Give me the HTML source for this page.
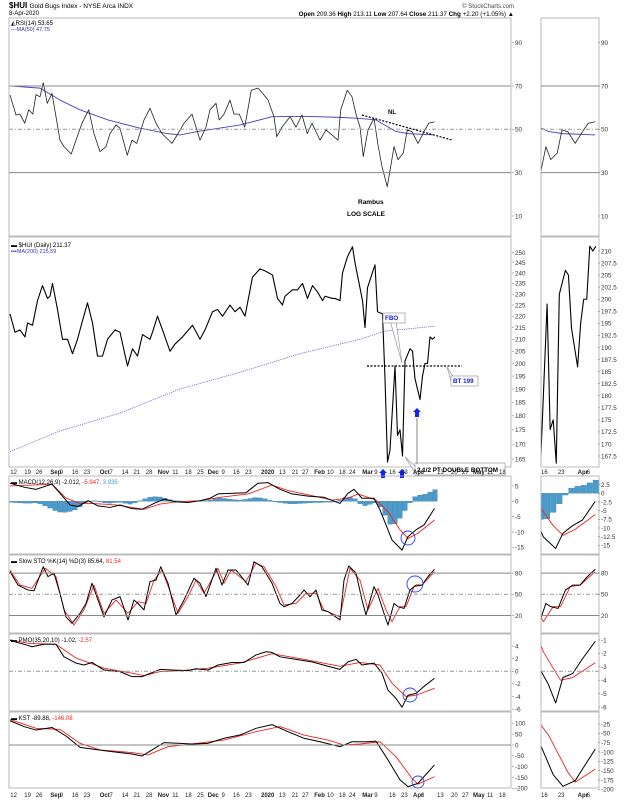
<!DOCTYPE html>
<html><head><meta charset="utf-8">
<style>
html,body{margin:0;padding:0;background:#fff;}
svg{display:block;font-family:"Liberation Sans",sans-serif;}
</style></head>
<body>
<svg id="c" width="624" height="800" viewBox="0 0 624 800" xmlns="http://www.w3.org/2000/svg">
<defs>
<clipPath id="cm"><rect x="9" y="18" width="502" height="772"/></clipPath>
<clipPath id="cr"><rect x="541" y="18" width="58" height="772"/></clipPath>
</defs>
<text x="9" y="8" font-size="8" font-weight="bold" fill="#000">$HUI <tspan font-weight="normal" font-size="6.5">Gold Bugs Index - NYSE Arca INDX</tspan></text>
<text x="9" y="15" font-size="6" fill="#000">8-Apr-2020</text>
<text x="514" y="8" font-size="6" fill="#444" text-anchor="end">© StockCharts.com</text>
<text x="514" y="16" font-size="6.3" fill="#000" text-anchor="end"><tspan font-weight="bold">Open</tspan> 209.36 <tspan font-weight="bold">High</tspan> 213.11 <tspan font-weight="bold">Low</tspan> 207.64 <tspan font-weight="bold">Close</tspan> 211.37 <tspan font-weight="bold">Chg</tspan> +2.20 (+1.05%) ▲</text>
<g id="g"></g>
</svg>
<script>
// ---- data (day index: 0 = 8-Aug-2019, 170 = 8-Apr-2020) ----
const priceDays=[0,2,4,6,7,9,11,13,15,16,17,19,21,23,25,27,29,31,33,35,37,39,42,44,47,49,51,53,56,57,59,61,64,66,69,73,76,78,81,83,85,88,90,92,94,97,100,102,105,107,109,110,113,115,117,119,121,123,125,126,129,130,132,133,135,137,138,141,142,143,146,147,149,150,151,152,154,155,156,157,158,160,161,162,164,165,166,167,168,169,170];
const priceVals=[221,213,214,211,217,216,227,234,228,229,235,223,210,210,204,210,218,226,217,203,203,210,214,213,199,206,203,212,210,213,220,214,205,208,211,216,210,214,222,223,220,225,222,224,220,238,242,241,239,228,225,229,232,232,235,228,234,231,227,229,228,228,227,240,248,253,245,227,215,233,244,222,221,194,164,168,199,173,175,166,201,206,205,194,186,195,200,200,211,210,211];
const maDays=[0,20,44,68,92,116,140,150,170];
const maVals=[167.5,174.6,181,190,196.5,204,210,213.5,215.6];
const rsiDays=[0,2.4,4,5.9,7.5,9.1,10.4,12,13.3,14.9,16.8,20,21.6,24.5,26.4,28.8,31.5,33.6,36,38.4,40,42.4,44,46.9,48.8,50.7,53.6,56,58.4,60.8,64.8,67.2,69.6,72.8,76,78.4,80,82.4,83.7,85.6,88,89.6,91.7,93.9,96.5,99.2,100.8,103.2,105.6,106.7,108.8,112,114.4,116.8,118.9,120.8,124,126.4,128.8,131.2,132.3,134.9,136.8,138.4,140,141.3,143.2,145.6,147.2,148.8,150.9,152.5,153.6,155.2,157.3,158.9,160.8,163.2,165.6,167.5,169.8];
const rsiVals=[65.8,56.6,57,52.8,59,57,66,65,71.5,62,66.6,45,42,38.6,45,52.8,59,48,39.7,42,48,52,50.5,38,45,43.5,54.3,59.7,52.8,48,43.5,48,52.8,57,45,51,59,62,54.3,57,63.5,57,57,51,68,69,67,63.5,55.8,46.6,51,55.8,51,56.6,48,52.8,45,49.7,47.4,45,59,68,65,57,51,37.4,49.7,55,42.8,32.8,23.5,34.3,42,36,39,49.7,48.9,43.5,48.9,52.8,53.5];
const rsiMaDays=[0,12,20,28,39.2,52,63.2,68,75.2,92,104.8,117.6,132,140,146.4,154.4,159.2,169.8];
const rsiMaVals=[70,69,63.5,59,54.3,50.5,48,47.4,49,52,55.8,56,55.5,55,54.3,49,48,47.4];
const macdDays=[0,5.6,10.4,16.8,20,24,27.2,31.2,35.2,40,44,48.8,52.8,57.6,61.6,66.4,71.2,76,80,83.2,88,94.4,99.2,103.2,108,112.8,119.2,125.6,132,135.2,137.6,140.8,145.6,148,150.4,152.8,156.8,159.2,162.4,165.6,169.8];
const macdVals=[5.9,4.6,3.9,5.6,2.6,-1.2,-1.7,0.2,-1.5,-2,-1.2,-2.4,-2.6,-0.7,0.7,-0.2,-0.4,0.2,1,2.4,2.6,2.8,5.9,6.1,3.9,2.4,1.7,1.3,-0.7,2.6,3.9,1,1,-2.8,-7.7,-12.6,-15.9,-11.5,-9.3,-7.7,-2.3];
const sigDays=[0,8.8,16.8,22.4,28,32.8,42.4,53.6,60,66.4,76,84,95.2,104.8,111.2,119.2,128.8,135.2,139.2,146.4,151.2,156,159.2,163.2,169.8];
const sigVals=[5,5.3,5.6,1,-0.7,-0.7,-1.2,-2.6,-0.9,-0.2,0.2,1.3,2.4,5.3,3.5,2.1,0.4,1,2.4,0.4,-3.4,-9.3,-12.1,-10.4,-6.1];
const histVals=[-0.3,-0.4,-0.5,-0.6,-0.6,-0.5,-0.8,-1.5,-2.2,-3.0,-3.5,-3.6,-3.3,-2.8,-1.8,-0.6,0.1,0.2,-0.2,-0.5,-0.6,-0.4,-0.3,-0.6,-0.9,-0.5,0.2,0.8,1.3,1.5,1.4,1.0,0.5,0.2,0.1,0,0.1,0.2,0.1,0.2,0.4,0.8,1.0,0.9,0.7,0.5,0.4,0.6,0.9,1.2,1.1,0.8,0.3,-0.2,-0.4,-0.6,-0.8,-0.8,-0.7,-0.6,-0.5,-0.4,-0.4,-0.3,-0.3,-0.2,0.3,1.2,1.4,0.8,-0.8,-1.4,-1.0,-0.5,-1.8,-4.5,-7.5,-7.3,-5.5,-3.0,-0.5,1.5,2.0,2.3,3.0,3.8];
const stoKDays=[0,3.2,7.2,9.6,13.3,15.2,17.6,20,22.4,24.8,28,30.4,32.8,35.2,37.6,40.8,44,47.2,49.6,51.2,53.6,56,58.4,60.3,63.2,66.4,69.6,73.6,76,78.4,82.4,84.8,87.2,90.4,93.6,95.2,97.6,100.8,104.8,108,109.6,112.8,116,117.6,120,122.4,124.8,127.2,132,133.6,135.5,138.4,140.8,142.4,145.6,147.2,149.6,151.2,153.6,155.2,157.6,160,162.4,164.8,167.2,169.8];
const stoKVals=[82,63,56,55,89,75,80,51,18,9,23,37,65.6,42,18,42,46.7,13.7,42,37,28,68,70,89,65.6,20.8,42,72.6,65.6,46.7,86.8,63,84.4,84.4,70.3,63,96,89,65.6,37,32.5,37,49,56,46.7,56,27.8,25.5,13.7,70,90,80,42,20.8,60.8,49,23,6.6,37,32.5,30,56,63,63,75,85.4];
const stoDDays=[0,4,8.8,14.1,18.4,21.6,25.6,29.6,33.6,37.6,42.4,47.2,51.2,54.4,57.6,60.8,64.8,67.2,71.2,74.4,77.6,83.2,85.6,88.5,94.4,98.4,101.6,106.4,109.6,114.4,118.4,122.4,125.6,132,136,140,143.2,147.2,150.4,152.8,156,158.4,161.6,164.8,169.8];
const stoDVals=[84,63,58.5,86.8,75,28,6.6,28,63,23,42,23,39.6,37,70,84.4,46.7,23,46.7,70,51.4,86.8,65.6,84.4,68,94,89,61,35,37,51.4,51.4,27.8,18,86.8,70,28,58.5,28,11.3,32.5,32.5,60.8,63,82];
const pmoDays=[0,5.6,8.8,13.6,18.4,21.6,26.4,29.6,32.8,37.6,44,48.8,52.8,60,64.8,71.2,74.4,79.2,83.2,88.8,93.6,98.4,102.4,104.8,108,114.4,120.8,127.2,132,135.2,138.4,140.8,145.6,148.8,151.2,154.4,156.8,159.2,162.4,165.6,169.8];
const pmoVals=[4.9,4.3,3.9,4.3,4.3,2.3,1.3,1,1.4,0.2,-0.05,-0.85,-0.85,0.3,0.2,0.1,0.4,0.2,1,1.4,1.4,2.6,3.1,3,2.3,1.9,1.5,0.8,0.3,1.5,1.9,1,1.3,-0.3,-3,-4.3,-5.7,-3.8,-3.5,-2.4,-1.1];
const pmoSigDays=[0,8,18.4,26.4,37.6,48.8,53.6,60,68,79.2,92,104.8,117.6,132,140,148,152.8,158.4,162.4,169.8];
const pmoSigVals=[5,4.4,4.3,2.1,0.5,-0.3,-0.7,-0.05,0.1,0.5,1.3,2.8,1.9,0.8,1.4,1,-1.9,-4,-3.8,-2.7];
const kstDays=[0,5.6,10.4,16.8,22.4,28,37.6,44,48.8,52.8,56.8,61.6,68,72.8,79.2,85.6,92,98.4,104.8,111.2,117.6,124,132,136.8,143.2,146.4,151.2,156,159.2,163.2,165.6,169.8];
const kstVals=[112,85,69,81,41.5,-11,-26,-35,-41.5,-51,-23,11,7.7,4.6,7.7,31,46,77,94,61.5,31,15,-7.7,15,15,18,-69,-161,-192,-177,-146,-92];
const kstSigDays=[0,10.4,20,28,36,48.8,55.2,63.2,72.8,85.6,98.4,108,117.6,127.2,133.6,140,148,154.4,160.8,163.2,169.8];
const kstSigVals=[118,77,72,7.7,-23,-35,-46,-7.7,4.6,23,61.5,85,46,23,0,4.6,15,-54,-154,-181,-146];
// axis labels
const priceTicks=[250,245,240,235,230,225,220,215,210,205,200,195,190,185,180,175,170,165];
const miniPriceTicks=[210,207.5,205,202.5,200,197.5,195,192.5,190,187.5,185,182.5,180,177.5,175,172.5,170,167.5];
const rsiTicks=[90,70,50,30,10];
const macdTicks=[5,0,-5,-10,-15];
const miniMacdTicks=[2.5,0,-2.5,-5,-7.5,-10,-12.5,-15];
const stoTicks=[80,50,20];
const pmoTicks=[4,2,0,-2,-4,-6];
const miniPmoTicks=[-1,-2,-3,-4,-5,-6];
const kstTicks=[100,50,0,-50,-100,-150,-200];
const miniKstTicks=[-25,-50,-75,-100,-125,-150,-175,-200];
const dateLabels=["12","19","26","Sep","9","16","23","Oct","7","14","21","28","Nov","11","18","25","Dec","9","16","23","2020","13","21","27","Feb","10","18","24","Mar","9","16","23","Apr","6","13","20","27","May","11","18"];
const dateDays=[1.3,6.9,11.5,17.3,21.1,25.9,30.6,37.1,41,45.9,50.6,55.5,60.3,66.1,71.2,76,80.3,85.8,90.4,95.2,101.6,108.8,113.9,118,122.9,128,132.8,136.8,142.1,146.9,152.8,157.6,162.4,165.6,172,177.6,182,186.4,192,196.8];
const miniDateLabels=["16","23","Apr","6"];
const miniDateDays=[153,158.5,165,168];

// ---- drawing ----
const NS="http://www.w3.org/2000/svg";
const G=document.getElementById('g');
function mk(tag,attrs,parent){const e=document.createElementNS(NS,tag);for(const k in attrs)e.setAttribute(k,attrs[k]);(parent||G).appendChild(e);return e;}
const XM=d=>10+d*2.5;
const XR=d=>541+(d-152)*3.05;
const MAINX0=9,MAINX1=511,MINIX0=541,MINIX1=599;
const gm=mk('g',{'clip-path':'url(#cm)'});


const gr=mk('g',{'clip-path':'url(#cr)'});



function panel(name,y0,y1){
  const a=mk('rect',{x:MAINX0,y:y0,width:MAINX1-MAINX0,height:y1-y0,fill:'none',stroke:'#aaa','stroke-width':0.8});
  
  
  const b=mk('rect',{x:MINIX0,y:y0,width:MINIX1-MINIX0,height:y1-y0,fill:'none',stroke:'#aaa','stroke-width':0.8});
  
  
}
function hline(name,y,dash,color){
  [[MAINX0,MAINX1],[MINIX0,MINIX1]].forEach(([a,b],i)=>{
    const l=mk('line',{x1:a,x2:b,y1:y,y2:y,stroke:color||'#888','stroke-width':1,'stroke-dasharray':dash||''});
    
    
  });
}
function ticks(name,vals,fy,x){
  vals.forEach(v=>{
    const t=mk('text',{x:x,y:fy(v)+2.3,'font-size':6.3,fill:'#333'});
    t.textContent=(Number.isInteger(v)||x<530)?String(v):v.toFixed(1);
    
    
    const m=mk('line',{x1:x-3,x2:x-1,y1:fy(v),y2:fy(v),stroke:'#888','stroke-width':0.6});
    
    
  });
}
function series(name,days,vals,fy,color,w,dash,mini){
  const fx=mini?XR:XM;
  let d='';days.forEach((dd,i)=>{d+=(i?'L':'M')+fx(dd).toFixed(2)+','+fy(vals[i]).toFixed(2);});
  const p=mk('path',{d:d,fill:'none',stroke:color,'stroke-width':w,'stroke-dasharray':dash||'','stroke-linejoin':'round'},mini?gr:gm);
  
  
}
function both(name,days,vals,fyMain,fyMini,color,w,dash){
  series(name,days,vals,fyMain,color,w,dash,false);
  series(name,days,vals,fyMini,color,w,dash,true);
}
function circ(name,x,y,r){
  const c=mk('circle',{cx:x,cy:y,r:r,fill:'none',stroke:'#3344ee','stroke-width':0.9});
  
  
}
function label(name,x,y,txt,opts){
  const t=mk('text',Object.assign({x:x,y:y,'font-size':6.3,fill:'#000'},opts||{}));
  t.textContent=txt;
  
  
  return t;
}

// RSI panel
const yRsi=v=>129.3-(v-50)*2.167;
panel('rsi',18,236);
hline('rsi-70-line',yRsi(70));hline('rsi-30-line',yRsi(30));
hline('rsi-50-line',yRsi(50),'4,2,1,2','#999');
ticks('rsi-axis',rsiTicks,yRsi,515);ticks('rsi-zoom-axis',rsiTicks,yRsi,601);
both('rsi-ma50-line',rsiMaDays,rsiMaVals,yRsi,yRsi,'#4444bb',0.9);
both('rsi-line',rsiDays,rsiVals,yRsi,yRsi,'#222',0.8);
label('rsi-legend',11,25,'◭RSI(14) 53.65',{'font-size':6});
label('rsi-ma-legend',11,31,'—MA(50) 47.75',{'font-size':5.5,fill:'#3333bb'});
{const l=mk('line',{x1:362,y1:115,x2:452,y2:140,stroke:'#000','stroke-width':1.2,'stroke-dasharray':'2,1.5'});

}
label('neckline-label',388,114,'NL',{'font-size':6,'font-weight':'bold'});
label('rambus-label',358,204,'Rambus',{'font-size':6.5,'font-weight':'bold'});
label('log-scale-label',347,216,'LOG SCALE',{'font-size':6.5,'font-weight':'bold'});

// Price panel
const yP=v=>252.7+Math.log(250/v)*496.6;
const yPm=v=>251+(210-v)*4.824;
panel('price',237,467);
ticks('price-axis',priceTicks,yP,515);ticks('price-zoom-axis',miniPriceTicks,yPm,601);
series('ma200-line',maDays,maVals,yP,'#6666cc',0.8,'1.2,1',false);
both('price-line',priceDays,priceVals,yP,yPm,'#000',1.1);
label('price-legend',11,247,'▬ $HUI (Daily) 211.37',{'font-size':6});
label('ma200-legend',11,253,'▪▪▪MA(200) 215.59',{'font-size':5.5,fill:'#3333bb'});
{const l=mk('line',{x1:367,y1:366,x2:462,y2:366,stroke:'#000','stroke-width':1.2,'stroke-dasharray':'2,1.5'});

}
function callout(name,x,y,w,h,txt,color,px,py,ax,ay){
  const p=mk('polyline',{points:`${x+w*ax},${y+h} ${px},${py} ${x+w*ay},${y+h}`,fill:'#fff',stroke:'#999','stroke-width':0.7});
  
  
  const r=mk('rect',{x:x,y:y,width:w,height:h,fill:'#fff',stroke:'#999','stroke-width':0.7});
  
  
  label(name+'-text',x+2,y+h-3,txt,{'font-size':6.3,'font-weight':'bold',fill:color});
}
callout('fbo-callout',383,313,22,10,'FBO','#1122dd',402,363,0.35,0.6);
callout('bt199-callout',451,376,27,10,'BT 199','#1122dd',447,367,0.05,0.3);
callout('double-bottom-callout',415,463,90,12,'2 1/2 PT DOUBLE BOTTOM','#000',405,457,0.02,0.1);
{const l=mk('line',{x1:417,y1:418,x2:417,y2:464,stroke:'#999','stroke-width':1.2});

}
function arrow(name,x,y){
  const p=mk('polygon',{points:`${x},${y} ${x+4},${y+4} ${x+2},${y+4} ${x+2},${y+9} ${x-2},${y+9} ${x-2},${y+4} ${x-4},${y+4}`,fill:'#1122ee'});
  
  
}
arrow('bottom-arrow-1',383,469);arrow('bottom-arrow-2',402,469);arrow('higher-low-arrow',417,408);

// date axis rows
function dates(name,y){
  dateLabels.forEach((s,i)=>{
    const bold=isNaN(+s)||s==='2020';
    label(name,XM(dateDays[i])-3,y,s,{'font-size':6,'font-weight':bold?'bold':'normal',fill:'#222'});
  });
  miniDateLabels.forEach((s,i)=>{
    label(name+'-zoom',XR(miniDateDays[i])-3,y,s,{'font-size':6,'font-weight':s==='Apr'?'bold':'normal',fill:'#222'});
  });
}
dates('date-axis-label',474);

// MACD panel
const yMacd=v=>501.3-v*3.07;
const yMacdM=v=>493.3-v*3.47;
panel('macd',476,554);
ticks('macd-axis',macdTicks,yMacd,515);ticks('macd-zoom-axis',miniMacdTicks,yMacdM,601);
histVals.forEach((v,i)=>{
  const d=i*2;
  [[XM,yMacd,gm,4.6],[XR,yMacdM,gr,5.6]].forEach(([fx,fy,par,w],j)=>{
    const y0=fy(0),y1=fy(v);
    const r=mk('rect',{x:fx(d)-w/2,y:Math.min(y0,y1),width:w,height:Math.max(0.4,Math.abs(y1-y0)),fill:'#4a9ccc',stroke:'#2c6f99','stroke-width':0.3},par);
    
    
  });
});
both('macd-signal-line',sigDays,sigVals,yMacd,yMacdM,'#ee2222',0.9);
both('macd-line',macdDays,macdVals,yMacd,yMacdM,'#000',1);
const ml=label('macd-legend',11,484,'▬ MACD(12,26,9) -2.012, ',{'font-size':6});
{const s1=document.createElementNS(NS,'tspan');s1.setAttribute('fill','#e22');s1.textContent='-5.947, ';ml.appendChild(s1);
const s2=document.createElementNS(NS,'tspan');s2.setAttribute('fill','#49c');s2.textContent='3.935';ml.appendChild(s2);}
circ('macd-cross-circle',408,538,7);

// STO panel
const ySto=v=>594.3-(v-50)*0.707;
panel('sto',555,633);
hline('sto-80-line',ySto(80));hline('sto-20-line',ySto(20));
hline('sto-50-line',ySto(50),'4,2,1,2','#999');
ticks('sto-axis',stoTicks,ySto,515);ticks('sto-zoom-axis',stoTicks,ySto,601);
both('sto-d-line',stoDDays,stoDVals,ySto,ySto,'#ee2222',0.9);
both('sto-k-line',stoKDays,stoKVals,ySto,ySto,'#000',1);
const sl=label('sto-legend',11,563,'▬ Slow STO %K(14) %D(3) 85.64, ',{'font-size':6});
{const s=document.createElementNS(NS,'tspan');s.setAttribute('fill','#e22');s.textContent='81.54';sl.appendChild(s);}
circ('sto-cross-circle',415,584,8);

// PMO panel
const yPmo=v=>671.3-v*6.3;
const yPmoM=v=>640-(v+1)*13.4;
panel('pmo',634,711);
hline('pmo-0-line',yPmo(0),'4,2,1,2','#999');
ticks('pmo-axis',pmoTicks,yPmo,515);ticks('pmo-zoom-axis',miniPmoTicks,yPmoM,601);
both('pmo-signal-line',pmoSigDays,pmoSigVals,yPmo,yPmoM,'#ee2222',0.9);
both('pmo-line',pmoDays,pmoVals,yPmo,yPmoM,'#000',1);
const pl=label('pmo-legend',11,642,'▬ PMO(35,20,10) -1.02, ',{'font-size':6});
{const s=document.createElementNS(NS,'tspan');s.setAttribute('fill','#e22');s.textContent='-2.57';pl.appendChild(s);}
circ('pmo-cross-circle',410,695,7);

// KST panel
const yKst=v=>745-v*0.2167;
const yKstM=v=>724-(v+25)*0.373;
panel('kst',712,788);
{const l=mk('line',{x1:MAINX0,x2:MAINX1,y1:yKst(0),y2:yKst(0),stroke:'#888','stroke-width':1});

}
ticks('kst-axis',kstTicks,yKst,515);ticks('kst-zoom-axis',miniKstTicks,yKstM,601);
both('kst-signal-line',kstSigDays,kstSigVals,yKst,yKstM,'#ee2222',0.9);
both('kst-line',kstDays,kstVals,yKst,yKstM,'#000',1);
const kl=label('kst-legend',11,720,'▬ KST -89.88, ',{'font-size':6});
{const s=document.createElementNS(NS,'tspan');s.setAttribute('fill','#e22');s.textContent='-146.08';kl.appendChild(s);}
circ('kst-cross-circle',418,782,6);

dates('bottom-date-axis-label',797);
</script>
</body></html>
